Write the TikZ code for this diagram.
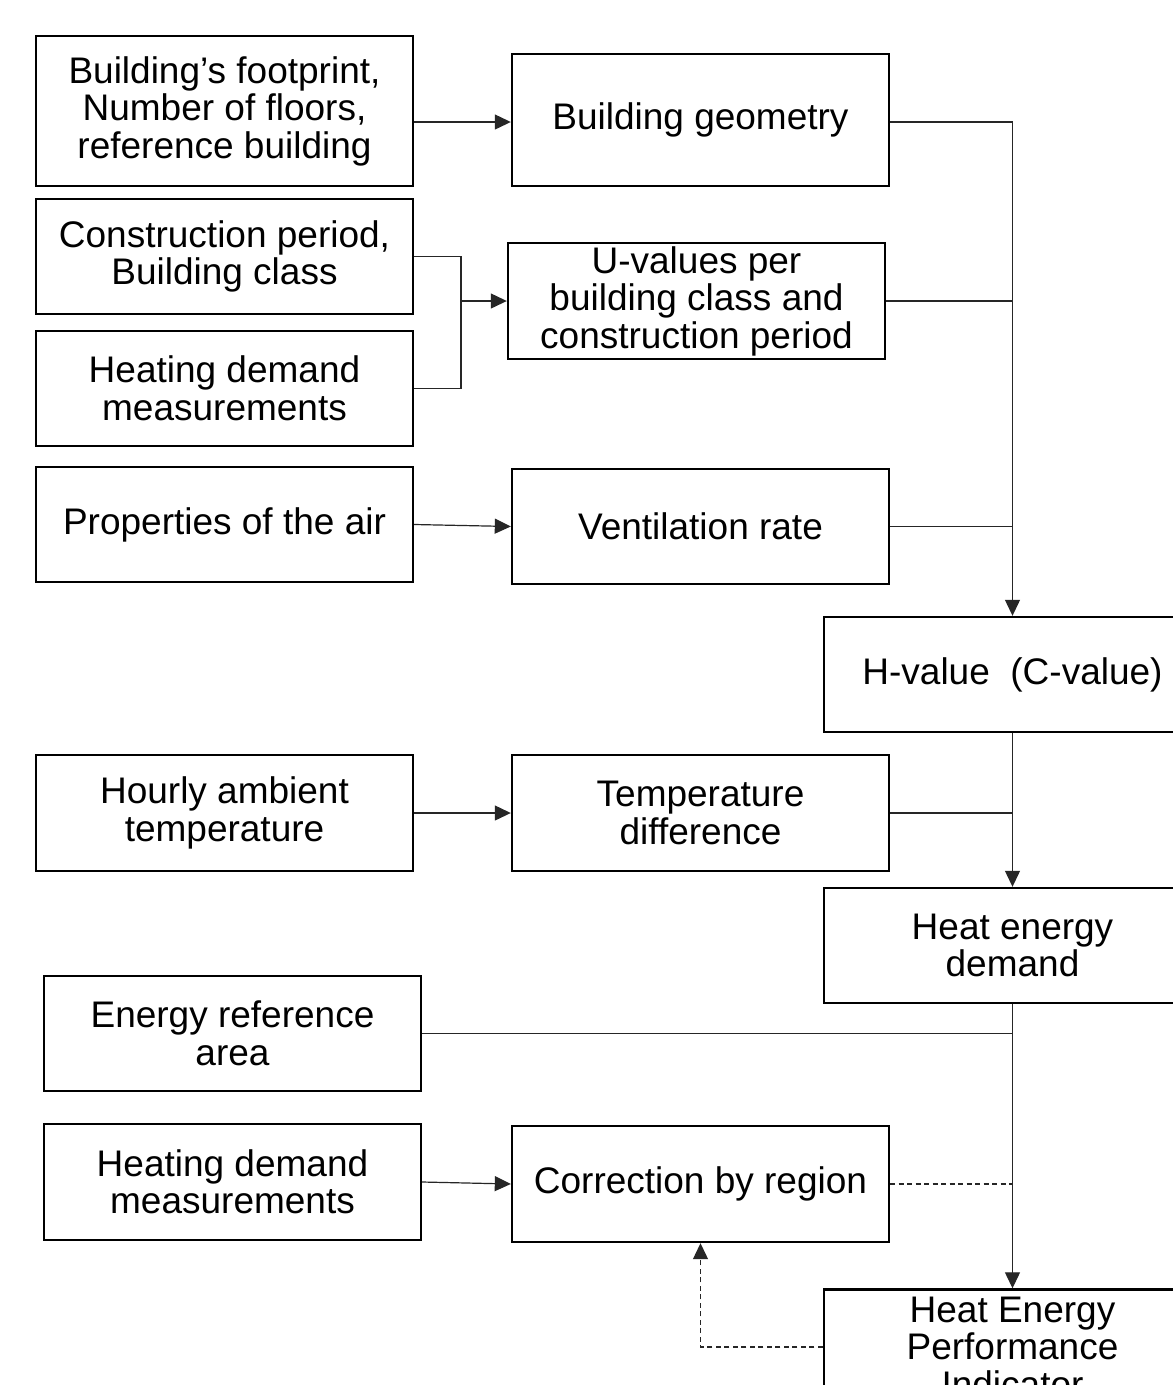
\documentclass[tikz,border=0pt]{standalone}
\usepackage{fontspec}
\setmainfont{Liberation Sans}
\usetikzlibrary{arrows.meta}
\begin{document}
\begin{tikzpicture}[x=1pt,y=-1pt,
  box/.style={draw, line width=2.4pt, align=center, inner sep=0pt, minimum width=377pt, minimum height=115pt, font=\fontsize{37}{37.5}\selectfont},
  conn/.style={draw=black!85, line width=1.2pt},
  arr/.style={conn, -{Triangle[length=16pt,width=15pt]}},
  dsh/.style={dash pattern=on 5pt off 3.5pt}]
\useasboundingbox (0,0) rectangle (1173,1385);
\clip (0,0) rectangle (1173,1385);
\fill[white] (0,0) rectangle (1173,1385);
\node[box, minimum height=150pt] (a) at (224.5,111) {Building’s footprint,\\Number of floors,\\reference building};
\node[box, minimum height=132pt] (b) at (700.5,120) {Building geometry};
\node[box] (c) at (224.5,256.5) {Construction period,\\Building class};
\node[box] (d) at (224.5,388.5) {Heating demand\\measurements};
\node[box, minimum height=116pt] (e) at (696.5,301) {U-values per\\building class and\\construction period};
\node[box] (f) at (224.5,524.5) {Properties of the air};
\node[box] (g) at (700.5,526.5) {Ventilation rate};
\node[box] (h) at (1012.5,674.5) {H-value\ \ (C-value)};
\node[box, minimum height=116pt] (i) at (224.5,813) {Hourly ambient\\temperature};
\node[box, minimum height=116pt] (j) at (700.5,813) {Temperature\\difference};
\node[box] (k) at (1012.5,945.5) {Heat energy\\demand};
\node[box] (l) at (232.5,1033.5) {Energy reference\\area};
\node[box, minimum height=116pt] (m) at (232.5,1182) {Heating demand\\measurements};
\node[box, minimum height=116pt] (n) at (700.5,1184) {Correction by region};
\node[box] (o) at (1012.5,1347) {Heat Energy\\Performance\\Indicator};
\coordinate (jn) at (461,301);
% connectors
\draw[arr] (a.east |- 0,122) -- (b.west |- 0,122);
\draw[arr] (b.east |- 0,122) -| (h.north);
\draw[conn] (c.east) -| (jn) |- (d.east);
\draw[arr] (jn) -- (e.west);
\draw[conn] (e.east) -- (e.east -| h.north);
\draw[arr] (f.east) -- (g.west);
\draw[conn] (g.east) -- (g.east -| h.north);
\draw[arr] (h.south) -- (k.north);
\draw[arr] (i.east) -- (j.west);
\draw[conn] (j.east) -- (j.east -| h.south);
\draw[arr] (k.south) -- (o.north);
\draw[conn] (l.east) -- (l.east -| k.south);
\draw[arr] (m.east) -- (n.west);
\draw[conn, dsh] (n.east) -- (n.east -| k.south);
\draw[arr, dsh] (o.west) -| (n.south);
\end{tikzpicture}
\end{document}
